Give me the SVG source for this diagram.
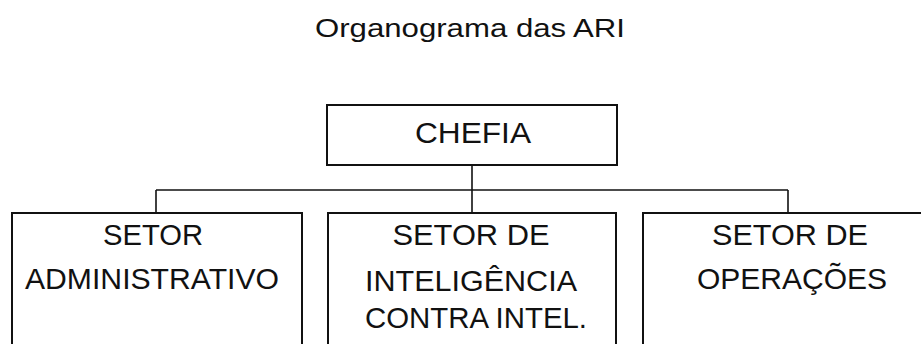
<svg xmlns="http://www.w3.org/2000/svg" width="921" height="344" viewBox="0 0 921 344">
<style>
.box{fill:#fff;stroke:#111;stroke-width:2}
.ln{fill:none;stroke:#111;stroke-width:1.6}
text{font-family:"Liberation Sans",Arial,sans-serif;fill:#111;text-anchor:middle}
.t{font-size:26px}
.n{font-size:30px}
</style>
<rect width="921" height="344" fill="#fff"/>
<text class="t" x="470" y="37" textLength="310" lengthAdjust="spacingAndGlyphs">Organograma das ARI</text>
<g id="connectors">
<line class="ln" x1="472" y1="165" x2="472" y2="190"/>
<line class="ln" x1="156" y1="190" x2="788" y2="190"/>
<line class="ln" x1="156" y1="190" x2="156" y2="213"/>
<line class="ln" x1="472" y1="190" x2="472" y2="213"/>
<line class="ln" x1="788" y1="190" x2="788" y2="213"/>
</g>
<g id="chefia">
<rect class="box" x="327" y="105" width="290" height="60"/>
<text class="n" x="473" y="143" textLength="116" lengthAdjust="spacingAndGlyphs">CHEFIA</text>
</g>
<g id="setor-administrativo">
<rect class="box" x="12" y="213" width="290" height="150"/>
<text class="n" x="153" y="245" textLength="100" lengthAdjust="spacingAndGlyphs">SETOR</text>
<text class="n" x="152" y="289" textLength="254" lengthAdjust="spacingAndGlyphs">ADMINISTRATIVO</text>
</g>
<g id="setor-inteligencia">
<rect class="box" x="328" y="213" width="288" height="150"/>
<text class="n" x="471" y="245" textLength="157" lengthAdjust="spacingAndGlyphs">SETOR DE</text>
<text class="n" x="471" y="291" textLength="212" lengthAdjust="spacingAndGlyphs">INTELIGÊNCIA</text>
<text class="n" x="476" y="328" textLength="222" lengthAdjust="spacingAndGlyphs">CONTRA INTEL.</text>
</g>
<g id="setor-operacoes">
<rect class="box" x="643" y="213" width="300" height="150"/>
<text class="n" x="790" y="245" textLength="156" lengthAdjust="spacingAndGlyphs">SETOR DE</text>
<text class="n" x="792" y="289" textLength="190" lengthAdjust="spacingAndGlyphs">OPERAÇÕES</text>
</g>
</svg>
